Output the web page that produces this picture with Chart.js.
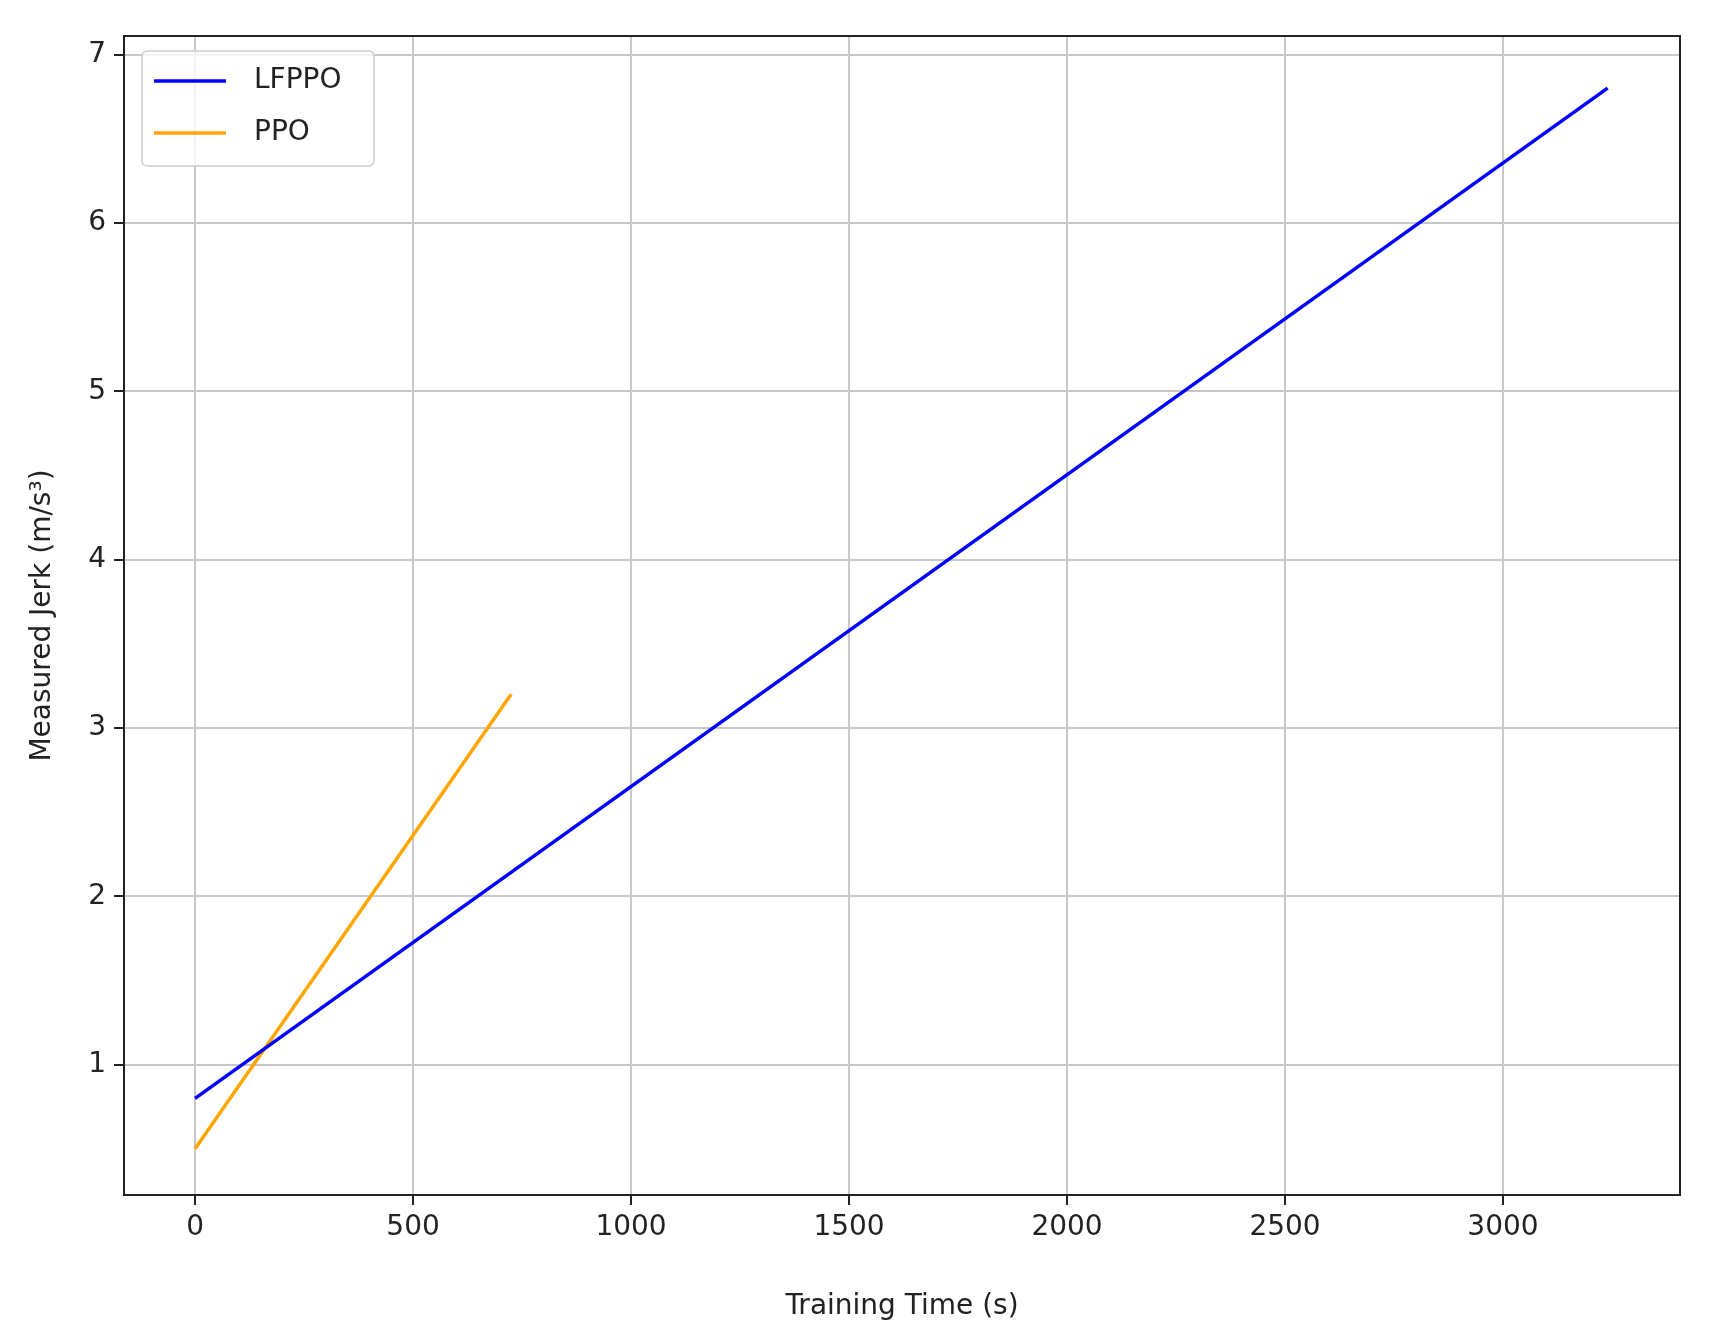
<!DOCTYPE html>
<html>
<head>
<script src="https://cdn.jsdelivr.net/npm/chart.js@4"></script>
<style>
body { margin: 0; background: #fff; }
#wrap { width: 1710px; height: 1328px; }
</style>
</head>
<body>
<div id="wrap"><canvas id="jerk"></canvas></div>
<script>
const lfppoTime = [0, 3240]
const lfppoJerk = [0.8, 6.8]
const ppoTime = [0, 725]
const ppoJerk = [0.5, 3.2]
const seriesNames = ['LFPPO', 'PPO']
const seriesColors = ['#0000ff', '#ffa500']
const xTicks = [0, 500, 1000, 1500, 2000, 2500, 3000]
const yTicks = [1, 2, 3, 4, 5, 6, 7]

const pts = (xs, ys) => xs.map((x, i) => ({ x: x, y: ys[i] }))

// legend drawn inside the plot, top-left like matplotlib
const boxLegend = {
    id: 'boxLegend',
    afterDraw(chart) {
        const ctx = chart.ctx
        const a = chart.chartArea
        const x0 = a.left + 18, y0 = a.top + 15
        ctx.save()
        ctx.fillStyle = 'rgba(255,255,255,0.8)'
        ctx.strokeStyle = '#cccccc'
        ctx.lineWidth = 1.5
        ctx.beginPath()
        ctx.roundRect(x0, y0, 232, 115, 5)
        ctx.fill()
        ctx.stroke()
        ctx.font = '28px "DejaVu Sans"'
        ctx.textBaseline = 'middle'
        seriesNames.forEach((name, i) => {
            const y = y0 + 30 + i * 52
            ctx.strokeStyle = seriesColors[i]
            ctx.lineWidth = 3.5
            ctx.beginPath()
            ctx.moveTo(x0 + 12, y)
            ctx.lineTo(x0 + 84, y)
            ctx.stroke()
            ctx.fillStyle = '#222'
            ctx.fillText(name, x0 + 112, y)
        })
        ctx.restore()
    }
}

// full box around the plot
const frame = {
    id: 'frame',
    afterDraw(chart) {
        const a = chart.chartArea, ctx = chart.ctx
        ctx.save()
        ctx.strokeStyle = '#222'
        ctx.lineWidth = 2
        ctx.strokeRect(a.left, a.top, a.right - a.left, a.bottom - a.top)
        ctx.restore()
    }
}

new Chart(document.getElementById('jerk'), {
    type: 'line',
    data: {
        datasets: [{
            label: seriesNames[0],
            data: pts(lfppoTime, lfppoJerk),
            borderColor: seriesColors[0],
            borderWidth: 3.5,
            pointRadius: 0
        }, {
            label: seriesNames[1],
            data: pts(ppoTime, ppoJerk),
            borderColor: seriesColors[1],
            borderWidth: 3.5,
            pointRadius: 0
        }]
    },
    options: {
        responsive: true,
        maintainAspectRatio: false,
        animation: false,
        layout: { padding: { top: 36, right: 30, left: 22 } },
        plugins: { legend: { display: false }, tooltip: { enabled: false } },
        scales: {
            x: {
                type: 'linear',
                min: -163,
                max: 3406,
                afterBuildTicks: s => { s.ticks = xTicks.map(v => ({ value: v })) },
                afterFit: s => { s.height = 133 },
                border: { color: '#222', width: 2 },
                grid: { color: '#c8c8c8', lineWidth: 2, tickLength: 10, tickColor: '#222' },
                ticks: { color: '#222', font: { family: 'DejaVu Sans', size: 28 }, padding: 6, maxRotation: 0, callback: v => String(v) },
                title: { display: true, text: 'Training Time (s)', color: '#222', font: { family: 'DejaVu Sans', size: 28 }, padding: { top: 0 } }
            },
            y: {
                min: 0.226,
                max: 7.11,
                afterBuildTicks: s => { s.ticks = yTicks.map(v => ({ value: v })) },
                afterFit: s => { s.width = 102 },
                border: { color: '#222', width: 2 },
                grid: { color: '#c8c8c8', lineWidth: 2, tickLength: 10, tickColor: '#222' },
                ticks: { color: '#222', font: { family: 'DejaVu Sans', size: 28 }, padding: 8, callback: v => String(v) },
                title: { display: true, text: 'Measured Jerk (m/s³)', color: '#222', font: { family: 'DejaVu Sans', size: 28 }, padding: { bottom: 6 } }
            }
        }
    },
    plugins: [boxLegend, frame]
})
</script>
</body>
</html>
